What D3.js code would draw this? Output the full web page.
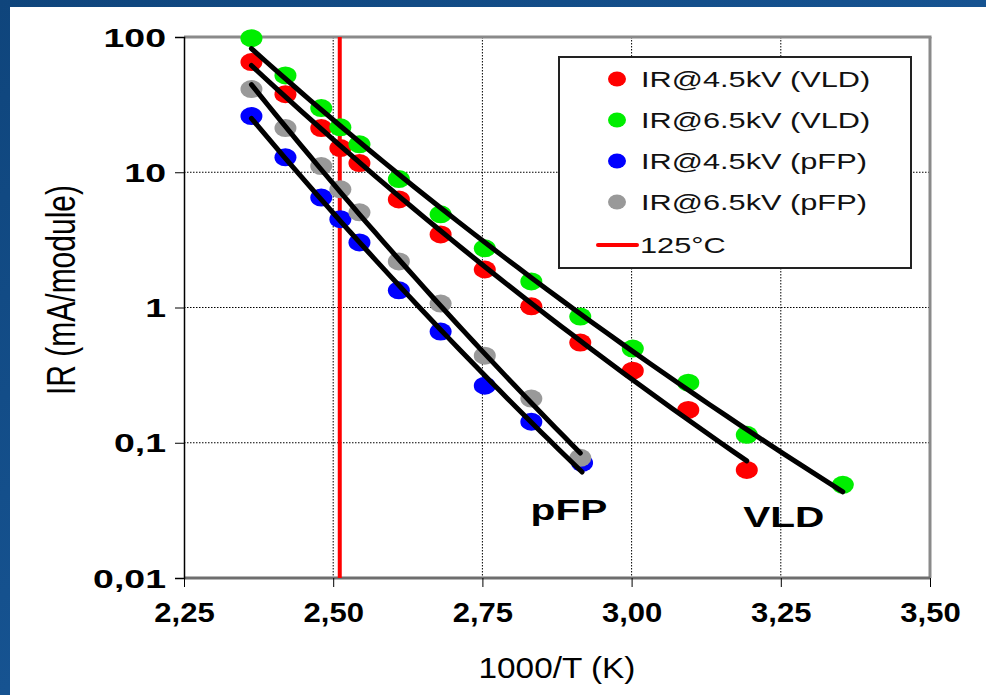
<!DOCTYPE html>
<html><head><meta charset="utf-8">
<script src="https://cdn.jsdelivr.net/npm/d3@7"></script>
<style>html,body{margin:0;padding:0;background:#fff;}svg{display:block;}</style>
</head><body>
<svg id="c" width="986" height="695"></svg>
<script>
// ---- data ----
const xTicks = [2.25, 2.50, 2.75, 3.00, 3.25, 3.50];
const xTickLabels = ["2,25", "2,50", "2,75", "3,00", "3,25", "3,50"];
const yTicks = [100, 10, 1, 0.1, 0.01];
const yTickLabels = ["100", "10", "1", "0,1", "0,01"];

const seriesNames = ["IR@4.5kV (VLD)", "IR@6.5kV (VLD)", "IR@4.5kV (pFP)", "IR@6.5kV (pFP)"];
const seriesColors = ["#ff0000", "#00ee00", "#0000ff", "#999999"];

const xVLD45 = [2.363, 2.420, 2.480, 2.512, 2.544, 2.610, 2.680, 2.754, 2.832, 2.914, 3.002, 3.095, 3.193];
const yVLD45 = [65.3, 37.8, 21.2, 15.1, 11.7, 6.3, 3.47, 1.91, 1.02, 0.55, 0.341, 0.175, 0.063];
const xVLD65 = [2.363, 2.420, 2.480, 2.512, 2.544, 2.610, 2.680, 2.754, 2.832, 2.914, 3.002, 3.095, 3.193, 3.354];
const yVLD65 = [98, 52, 29.8, 21.5, 16.1, 8.9, 4.89, 2.74, 1.56, 0.857, 0.497, 0.278, 0.1145, 0.0489];
const xPFP45 = [2.363, 2.420, 2.480, 2.512, 2.544, 2.610, 2.680, 2.754, 2.832, 2.917];
const yPFP45 = [26, 12.9, 6.5, 4.5, 3.03, 1.34, 0.664, 0.264, 0.143, 0.0711];
const xPFP65 = [2.363, 2.420, 2.480, 2.512, 2.544, 2.610, 2.680, 2.754, 2.832, 2.914];
const yPFP65 = [41.2, 21.2, 11.1, 7.48, 5.06, 2.19, 1.07, 0.44, 0.212, 0.0774];

const temp125 = 2.511; // 1000/T at 125°C
const groupLabels = ["pFP", "VLD"];
const groupLabelX = [2.895, 3.255];
const groupLabelY = [0.027, 0.024];

// ---- drawing ----
const svg = d3.select("#c");
const W = 986, H = 695;

const defs = svg.append("defs");
const g1 = defs.append("linearGradient").attr("id", "bg").attr("x1", 0).attr("y1", 0).attr("x2", 1).attr("y2", 1);
g1.append("stop").attr("offset", 0).attr("stop-color", "#0f457c");
g1.append("stop").attr("offset", 0.5).attr("stop-color", "#165391");
g1.append("stop").attr("offset", 1).attr("stop-color", "#0e4478");
svg.append("rect").attr("width", W).attr("height", H).attr("fill", "url(#bg)");
svg.append("rect").attr("x", 10).attr("y", 7).attr("width", W - 10).attr("height", H - 7).attr("fill", "#fff");

const x = d3.scaleLinear().domain([2.25, 3.5]).range([184, 930]);
const y = d3.scaleLog().domain([0.01, 100]).range([578, 37]);

const font = "'Liberation Sans', Arial, sans-serif";

// grid
const grid = svg.append("g");
grid.selectAll("line.v").data(xTicks.slice(1, -1)).join("line")
  .attr("x1", d => x(d)).attr("x2", d => x(d)).attr("y1", y(100)).attr("y2", y(0.01))
  .attr("stroke", "#000").attr("stroke-width", 1).attr("stroke-dasharray", "1.5,1.5");
grid.selectAll("line.h").data(yTicks.slice(1, -1)).join("line")
  .attr("y1", d => y(d)).attr("y2", d => y(d)).attr("x1", x(2.25)).attr("x2", x(3.5))
  .attr("stroke", "#000").attr("stroke-width", 1).attr("stroke-dasharray", "1.5,1.5");

// frame
svg.append("line").attr("x1", x(2.25)).attr("x2", x(3.5) + 1.5).attr("y1", y(100)).attr("y2", y(100))
  .attr("stroke", "#8a8a8a").attr("stroke-width", 3);
svg.append("line").attr("x1", x(3.5)).attr("x2", x(3.5)).attr("y1", y(100)).attr("y2", y(0.01))
  .attr("stroke", "#8a8a8a").attr("stroke-width", 3);
svg.append("line").attr("x1", x(2.25)).attr("x2", x(3.5)).attr("y1", y(0.01)).attr("y2", y(0.01))
  .attr("stroke", "#6e6e6e").attr("stroke-width", 3);

// axes
const yAxis = svg.append("g").attr("transform", `translate(${x(2.25)},0)`)
  .call(d3.axisLeft(y).tickValues(yTicks).tickSize(9).tickFormat((d, i) => yTickLabels[i]));
yAxis.select(".domain").attr("stroke", "#000").attr("stroke-width", 1.5);
yAxis.selectAll(".tick line").attr("stroke", "#000");
yAxis.selectAll(".tick text").attr("font-family", font).attr("font-size", 25).attr("font-weight", "bold")
  .attr("fill", "#000").attr("x", 0).attr("dy", "0.36em")
  .attr("transform", `translate(-18,0) scale(1.5,1)`);

const xAxis = svg.append("g").attr("transform", `translate(0,${y(0.01)})`)
  .call(d3.axisBottom(x).tickValues(xTicks).tickSize(9).tickFormat((d, i) => xTickLabels[i]));
xAxis.select(".domain").remove();
xAxis.selectAll(".tick line").attr("stroke", "#000");
xAxis.selectAll(".tick text").attr("font-family", font).attr("font-size", 27).attr("font-weight", "bold")
  .attr("fill", "#000").attr("y", 0).attr("dy", 0)
  .attr("transform", `translate(0,44) scale(1.15,1)`);

// titles
svg.append("text").attr("font-family", font).attr("font-size", 29).attr("text-anchor", "middle")
  .attr("transform", `translate(557,678) scale(1.15,1)`).text("1000/T (K)");
svg.append("text").attr("font-family", font).attr("font-size", 30).attr("text-anchor", "middle")
  .attr("transform", `translate(75,290) scale(1.35,1) rotate(-90)`).text("IR (mA/module)");

// 125°C line
svg.append("line").attr("x1", x(temp125)).attr("x2", x(temp125)).attr("y1", y(100)).attr("y2", y(0.01))
  .attr("stroke", "#ff0000").attr("stroke-width", 4);

// points
const seriesX = [xVLD45, xVLD65, xPFP45, xPFP65];
const seriesY = [yVLD45, yVLD65, yPFP45, yPFP65];
seriesX.forEach((xs, s) => {
  const pts = xs.map((v, i) => [v, seriesY[s][i]]);
  svg.append("g").selectAll("ellipse").data(pts).join("ellipse")
    .attr("cx", d => x(d[0])).attr("cy", d => y(d[1])).attr("rx", 11).attr("ry", 9)
    .attr("fill", seriesColors[s]);
});

// power-law trend lines fitted to each series (least squares on log-log)
function powerFit(xs, ys) {
  const lx = xs.map(Math.log), ly = ys.map(Math.log);
  const mx = d3.mean(lx), my = d3.mean(ly);
  const b = d3.sum(lx, (v, i) => (v - mx) * (ly[i] - my)) / d3.sum(lx, v => (v - mx) * (v - mx));
  const a = my - b * mx;
  return t => Math.exp(a + b * Math.log(t));
}
const line = d3.line().x(d => x(d[0])).y(d => y(d[1]));
seriesX.forEach((xs, s) => {
  const f = powerFit(xs, seriesY[s]);
  const x0 = d3.min(xs), x1 = d3.max(xs);
  const pts = d3.range(41).map(k => { const t = x0 + (x1 - x0) * k / 40; return [t, f(t)]; });
  svg.append("path").attr("d", line(pts))
    .attr("stroke", "#000").attr("stroke-width", 5).attr("fill", "none").attr("stroke-linecap", "round");
});

// group labels
groupLabels.forEach((t, i) => {
  svg.append("text").attr("font-family", font).attr("font-size", 29).attr("font-weight", "bold")
    .attr("text-anchor", "middle")
    .attr("transform", `translate(${x(groupLabelX[i])},${y(groupLabelY[i])}) scale(1.4,1)`).text(t);
});

// legend
const lg = svg.append("g");
lg.append("rect").attr("x", 559).attr("y", 57).attr("width", 352).attr("height", 211)
  .attr("fill", "#fff").attr("stroke", "#222").attr("stroke-width", 2);
const rowY = [79, 120, 161, 202, 245];
seriesNames.forEach((n, i) => {
  lg.append("ellipse").attr("cx", 617).attr("cy", rowY[i]).attr("rx", 9).attr("ry", 7.5).attr("fill", seriesColors[i]);
  lg.append("text").attr("font-family", font).attr("font-size", 21.5).attr("fill", "#111")
    .attr("transform", `translate(641,${rowY[i] + 8}) scale(1.43,1)`).text(n);
});
lg.append("line").attr("x1", 598).attr("x2", 637).attr("y1", rowY[4]).attr("y2", rowY[4])
  .attr("stroke", "#ff0000").attr("stroke-width", 4).attr("stroke-linecap", "round");
lg.append("text").attr("font-family", font).attr("font-size", 21.5).attr("fill", "#111")
  .attr("transform", `translate(640,${rowY[4] + 8}) scale(1.43,1)`).text("125°C");
</script>
</body></html>
